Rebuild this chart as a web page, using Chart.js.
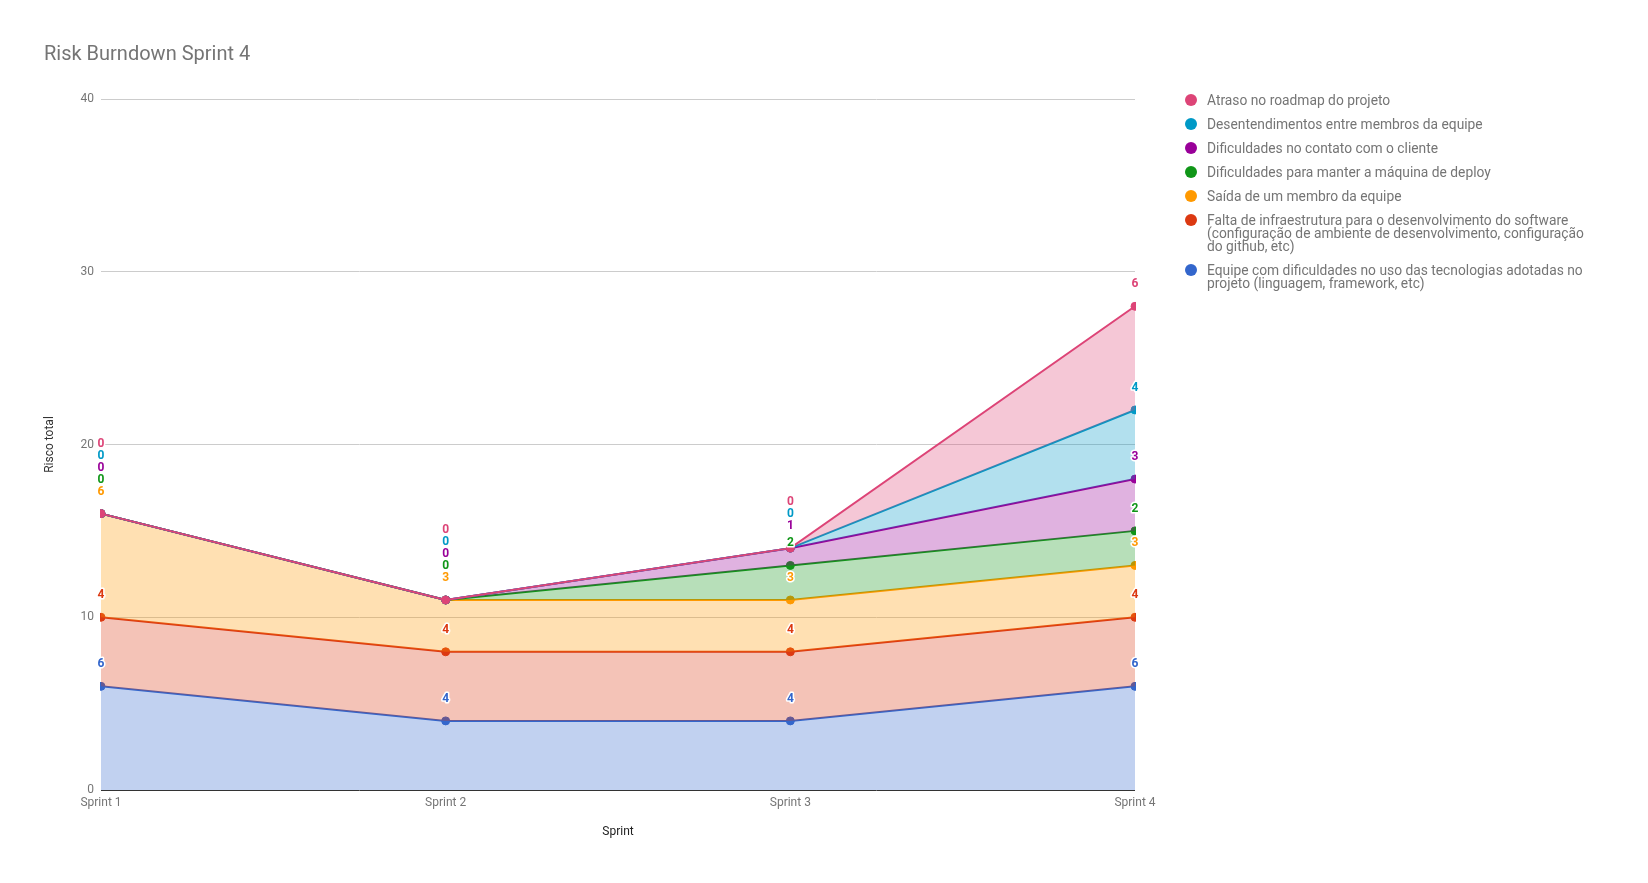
<!DOCTYPE html>
<html>
<head>
<meta charset="utf-8">
<script src="https://cdn.jsdelivr.net/npm/chart.js@4"></script>
<style>
  body { margin: 0; background: #fff; font-family: Roboto, sans-serif; }
  #wrap { position: relative; width: 1648px; height: 883px; }
  #legend { position: absolute; left: 1185px; top: 88px; width: 420px; }
  .item { display: flex; align-items: flex-start; padding: 5.5px 0; font-size: 13.8px; line-height: 13px; color: #757575; }
  .dot { flex: none; width: 12px; height: 12px; border-radius: 50%; margin: 0.5px 10px 0 0; }
  .txt { max-width: 388px; }
</style>
</head>
<body>
<div id="wrap">
  <canvas id="riskChart" width="1648" height="883"></canvas>
  <div id="legend"></div>
</div>
<script>
let sprints = ["Sprint 1", "Sprint 2", "Sprint 3", "Sprint 4"];
let yTicks = [0, 10, 20, 30, 40];

// series, bottom of the stack first
let equipeTecnologias = [6, 4, 4, 6];
let faltaInfra = [4, 4, 4, 4];
let saidaMembro = [6, 3, 3, 3];
let maquinaDeploy = [0, 0, 2, 2];
let contatoCliente = [0, 0, 1, 3];
let desentendimentos = [0, 0, 0, 4];
let atrasoRoadmap = [0, 0, 0, 6];

let series = [
  { name: "Equipe com dificuldades no uso das tecnologias adotadas no projeto (linguagem, framework, etc)", values: equipeTecnologias, color: "#3366cc" },
  { name: "Falta de infraestrutura para o desenvolvimento do software (configuração de ambiente de desenvolvimento, configuração do github, etc)", values: faltaInfra, color: "#dc3912" },
  { name: "Saída de um membro da equipe", values: saidaMembro, color: "#ff9900" },
  { name: "Dificuldades para manter a máquina de deploy", values: maquinaDeploy, color: "#109618" },
  { name: "Dificuldades no contato com o cliente", values: contatoCliente, color: "#990099" },
  { name: "Desentendimentos entre membros da equipe", values: desentendimentos, color: "#0099c6" },
  { name: "Atraso no roadmap do projeto", values: atrasoRoadmap, color: "#dd4477" },
];

function hexA(hex, a) {
  let n = parseInt(hex.slice(1), 16);
  return "rgba(" + (n >> 16) + "," + ((n >> 8) & 255) + "," + (n & 255) + "," + a + ")";
}

// running totals so upper series get drawn over the lower ones
let running = sprints.map(() => 0);
let stacked = series.map((s) => {
  running = running.map((v, i) => v + s.values[i]);
  return running.slice();
});

// top series first: dataset 0 is painted last by Chart.js
let datasets = series.map((s, i) => ({
  label: s.name,
  data: stacked[i],
  values: s.values,
  level: i,
  borderColor: s.color,
  backgroundColor: hexA(s.color, 0.3),
  pointBackgroundColor: s.color,
  pointBorderColor: s.color,
  pointRadius: 4,
  pointBorderWidth: 1,
  borderWidth: 2,
  tension: 0,
  clip: 1,
  fill: i === 0 ? "origin" : "+1",
})).reverse();

// value labels above each point, pushed up when they collide
let pointLabels = {
  id: "pointLabels",
  afterDatasetsDraw(chart) {
    let ctx = chart.ctx;
    let area = chart.chartArea;
    ctx.save();
    ctx.beginPath();
    ctx.rect(area.left - 6, 0, area.right - area.left + 10, chart.height);
    ctx.clip();
    ctx.font = "bold 12px Roboto";
    ctx.textAlign = "center";
    ctx.textBaseline = "middle";
    ctx.lineJoin = "round";
    let byLevel = chart.data.datasets
      .map((ds, i) => ({ ds, meta: chart.getDatasetMeta(i) }))
      .sort((a, b) => a.ds.level - b.ds.level);
    sprints.forEach((s, j) => {
      let prev = Infinity;
      byLevel.forEach(({ ds, meta }) => {
        let pt = meta.data[j];
        let y = pt.y - 22;
        if (prev - y < 12) y = prev - 12;
        prev = y;
        let txt = String(ds.values[j]);
        ctx.strokeStyle = "#fff";
        ctx.lineWidth = 3;
        ctx.strokeText(txt, pt.x, y);
        ctx.fillStyle = ds.borderColor;
        ctx.fillText(txt, pt.x, y);
      });
    });
    ctx.restore();
  },
};

Chart.defaults.font.family = "Roboto";
Chart.defaults.color = "#757575";

new Chart(document.querySelector("#riskChart"), {
  type: "line",
  data: { labels: sprints, datasets: datasets },
  plugins: [pointLabels],
  options: {
    responsive: false,
    animation: false,
    layout: { padding: { left: 44, right: 513, top: 0, bottom: 41 } },
    scales: {
      x: {
        offset: false,
        grid: { display: false, drawTicks: false },
        border: { display: false },
        ticks: { padding: 6, font: { size: 12 }, color: "#757575" },
        title: { display: true, text: "Sprint", color: "#222", font: { size: 12 }, padding: { top: 3, bottom: 3 } },
        afterFit: (scale) => { scale.height = 52; },
      },
      y: {
        min: 0,
        max: 40,
        afterBuildTicks: (scale) => { scale.ticks = yTicks.map((v) => ({ value: v })); },
        grid: {
          drawTicks: false,
          color: (c) => (c.tick && c.tick.value === 0 ? "#333" : "#cccccc"),
        },
        border: { display: false },
        ticks: { padding: 7, font: { size: 12 }, color: "#757575" },
        title: { display: true, text: "Risco total", color: "#333", font: { size: 12, lineHeight: 1 }, padding: 0 },
        afterFit: (scale) => { scale.width = 57; },
      },
    },
    plugins: {
      legend: { display: false },
      tooltip: { enabled: false },
      title: {
        display: true,
        text: "Risk Burndown Sprint 4",
        align: "start",
        color: "#757575",
        font: { size: 20, weight: "normal", lineHeight: 1.2 },
        padding: { top: 43, bottom: 32 },
      },
    },
  },
});

// html legend, top series first
let legend = document.querySelector("#legend");
series.slice().reverse().forEach((s) => {
  let item = document.createElement("div");
  item.className = "item";
  let dot = document.createElement("span");
  dot.className = "dot";
  dot.style.background = s.color;
  let txt = document.createElement("span");
  txt.className = "txt";
  txt.textContent = s.name;
  item.appendChild(dot);
  item.appendChild(txt);
  legend.appendChild(item);
});
</script>
</body>
</html>
